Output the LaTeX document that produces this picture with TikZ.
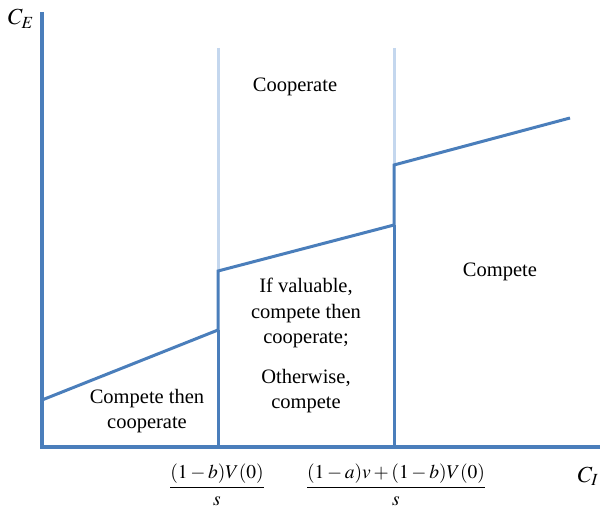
\documentclass[tikz,border=0pt]{standalone}
\usepackage{amsmath}
\usepackage{mathptmx}
\usepackage[no-math]{fontspec}
\setmainfont{Liberation Serif}
\usetikzlibrary{positioning}

\definecolor{lineblue}{RGB}{74,126,187}
\definecolor{paleblue}{RGB}{196,215,238}

\begin{document}
\begin{tikzpicture}[x=1pt,y=-1pt,
    axis/.style={draw=lineblue, line width=3.3pt},
    border/.style={draw=lineblue, line width=3pt, line join=miter},
    divider/.style={draw=paleblue, line width=3pt},
    region/.style={font=\fontsize{20.5}{25.5}\selectfont, align=center},
    ticklab/.style={font=\fontsize{19.5}{23}\selectfont},
    axlab/.style={font=\fontsize{23}{26}\selectfont}]
  \useasboundingbox (0,0) rectangle (600,510);

  % Achsen
  \coordinate (origin) at (42,447);
  \coordinate (ytop) at (42,12);
  \coordinate (xend) at (600,447);
  \draw[axis] (ytop) -- (origin) -- (xend);

  % Punkte der Grenzlinie
  \coordinate (p0) at (42,400);
  \coordinate (p1) at (218,330);
  \coordinate (p2) at (218,271);
  \coordinate (p3) at (394,225);
  \coordinate (p4) at (394,165);
  \coordinate (p5) at (570,118);
  \coordinate (s1) at (218,447);
  \coordinate (s2) at (394,447);
  \coordinate (t1) at (218,48);
  \coordinate (t2) at (394,48);

  \draw[divider] (t1) -- (p2);
  \draw[divider] (t2) -- (p4);
  \draw[border] (p0) -- (p1) -- (p2) -- (p3) -- (p4) -- (p5);
  \draw[border] (s1) -- (p1);
  \draw[border] (s2) -- (p3);

  % Beschriftungen
  \node[axlab] (ce) at (21,19) {$C_E$};
  \node[axlab] (ci) at (588,476) {$C_I$};
  \node[ticklab] (k1) at (217,485) {$\dfrac{(1-b)V(0)}{s}$};
  \node[ticklab] (k2) at (396,485) {$\dfrac{(1-a)v+(1-b)V(0)}{s}$};

  \node[region] (coop) at (295,87) {Cooperate};
  \node[region] (comp) at (500,272) {Compete};
  \node[region] (ctc) at (147,411) {Compete then\\cooperate};
  \node[region] (mid) at (306,313) {If valuable,\\compete then\\cooperate;};
  \node[region] (other) at (306,391) {Otherwise,\\compete};
\end{tikzpicture}
\end{document}
